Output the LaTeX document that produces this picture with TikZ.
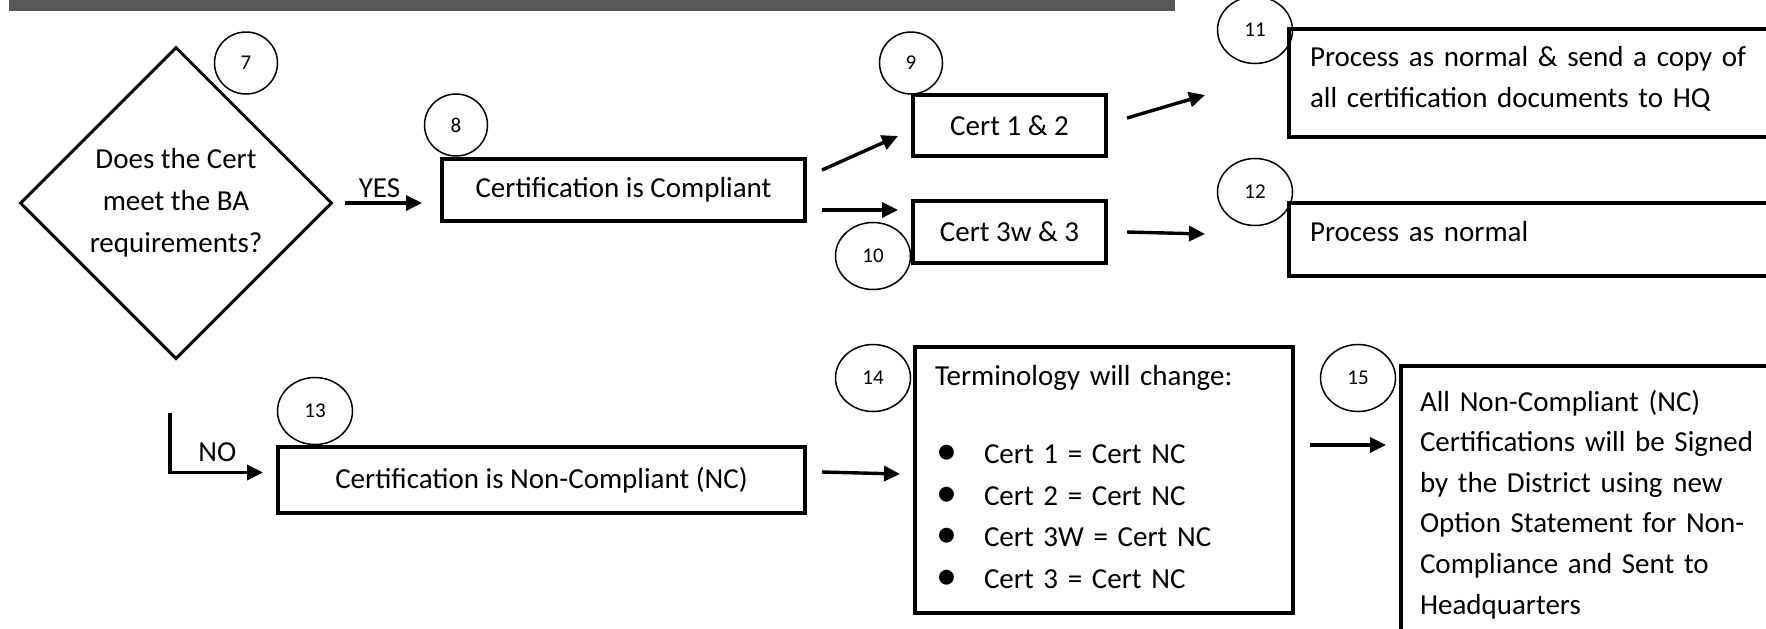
\documentclass[tikz,border=0pt]{standalone}
\usepackage{fontspec}
\setmainfont{Carlito}
\usetikzlibrary{shapes.geometric, arrows.meta, calc}
\definecolor{bargray}{RGB}{89,89,89}
\newcommand{\termbullet}{\makebox[24.5pt][l]{\hspace{0.5pt}\raisebox{-0.6pt}{\scalebox{1.45}{\textbullet}}}}

\begin{document}
\begin{tikzpicture}[
            x = 0.5pt, y = -0.5pt,
            > = {Triangle[length=8pt,width=7.5pt]},
   flow/.style = {line width=1.7pt,->},
    box/.style = {draw, line width=2pt, inner sep=0pt,
                  font=\fontsize{14.5pt}{20.75pt}\selectfont},
textbox/.style = {box, anchor=north west, align=left, inner ysep=0pt},
decision/.style = {diamond, draw, line width=1.5pt, minimum width=156pt,
                  minimum height=156pt, inner sep=0pt, align=center,
                  font=\fontsize{14.5pt}{21pt}\selectfont},
stepnum/.style = {ellipse, draw, line width=0.75pt, inner sep=0pt,
                  minimum width=31.5pt, minimum height=31pt,
                  font=\fontsize{10.5pt}{12pt}\selectfont},
stepwide/.style = {stepnum, minimum width=37.5pt, minimum height=33.5pt}
                        ]
\useasboundingbox (0,0) rectangle (1766,628);
\clip (0,0) rectangle (1766,628);
% header bar
    \fill[bargray] (9,0) rectangle (1175,11);
% question
    \node[decision] (dec) at (176,203) {Does the Cert\\meet the BA\\requirements?};
% boxes
    \node[box, minimum width=181.5pt, minimum height=31pt] (comp) at (623.5,190) {Certification is Compliant};
    \node[box, minimum width=96.5pt, minimum height=30.5pt] (cert12) at (1009.5,125.5) {Cert 1 \& 2};
    \node[box, minimum width=96.5pt, minimum height=31pt] (cert3w) at (1009.5,232) {Cert 3w \& 3};
    \node[textbox, text width=290pt, inner xsep=10.5pt, text height=18.5pt, text depth=35.5pt] (hq) at (1287,27)
        {Process as normal \& send a copy of\\all certification documents to HQ};
    \node[textbox, text width=290pt, inner xsep=10.5pt, text height=19pt, text depth=17.5pt] (normal) at (1287,201)
        {Process as normal};
    \node[box, minimum width=263.5pt, minimum height=33pt] (noncomp) at (541.5,480) {Certification is Non-Compliant (NC)};
    \node[textbox, text width=169pt, inner xsep=10pt, text height=19pt, text depth=114pt] (term) at (913,345)
        {Terminology will change:\\[18.5pt]
         \termbullet Cert 1 = Cert NC\\
         \termbullet Cert 2 = Cert NC\\
         \termbullet Cert 3W = Cert NC\\
         \termbullet Cert 3 = Cert NC};
    \node[textbox, text width=200pt, inner xsep=9.5pt, text height=22.5pt, text depth=150pt,
          font=\fontsize{14.5pt}{20.3pt}\selectfont] (signed) at (1399,364)
        {All Non-Compliant (NC)\\Certifications will be Signed\\by the District using new\\
         Option Statement for Non-\\Compliance and Sent to\\Headquarters};
% yes branch
    \draw[flow] ([xshift=5.5pt]dec.east) -- ($(dec.east -| comp.west)+(-18,0)$)
        node[pos=0, anchor=base west, xshift=3pt, yshift=3pt] (yes) {\fontsize{14.5pt}{17pt}\selectfont YES};
    \draw[flow] ([shift={(7.5pt,10pt)}]comp.east) -- ([shift={(-6.5pt,-5.25pt)}]cert12.west);
    \draw[flow] ([shift={(7.5pt,-10pt)}]comp.east) -- ([shift={(-6.5pt,11pt)}]cert3w.west);
    \draw[flow] ([shift={(9.5pt,3.75pt)}]cert12.east) -- ([shift={(-41pt,-6pt)}]hq.west);
    \draw[flow] ([xshift=9.5pt]cert3w.east) -- ([shift={(-41pt,2.75pt)}]normal.west);
% no branch
    \draw[flow] ([shift={(-3pt,-26pt)}]dec.south) -- ++(0,60) coordinate (nocorner)
        node[anchor=base west, xshift=10pt, yshift=5.5pt] (no) {\fontsize{14.5pt}{17pt}\selectfont NO}
        -- ($(nocorner -| noncomp.west)+(-13,0)$);
    \draw[flow] ([shift={(7.5pt,4pt)}]noncomp.east) -- ([shift={(-6.5pt,3pt)}]term.west);
    \draw[flow] ([shift={(7.5pt,17.5pt)}]term.east) -- ([shift={(-6.5pt,-40.5pt)}]signed.north west);
% step numbers
    \node[stepnum]  (num7)  at (246,63)   {7};
    \node[stepnum]  (num8)  at (456,125)  {8};
    \node[stepnum]  (num9)  at (911,63)   {9};
    \node[stepwide] (num10) at (873,256)  {10};
    \node[stepwide] (num11) at (1255,30)  {11};
    \node[stepwide] (num12) at (1255,192) {12};
    \node[stepwide] (num13) at (315,411)  {13};
    \node[stepwide] (num14) at (873,378)  {14};
    \node[stepwide] (num15) at (1358,378) {15};
\end{tikzpicture}
\end{document}
